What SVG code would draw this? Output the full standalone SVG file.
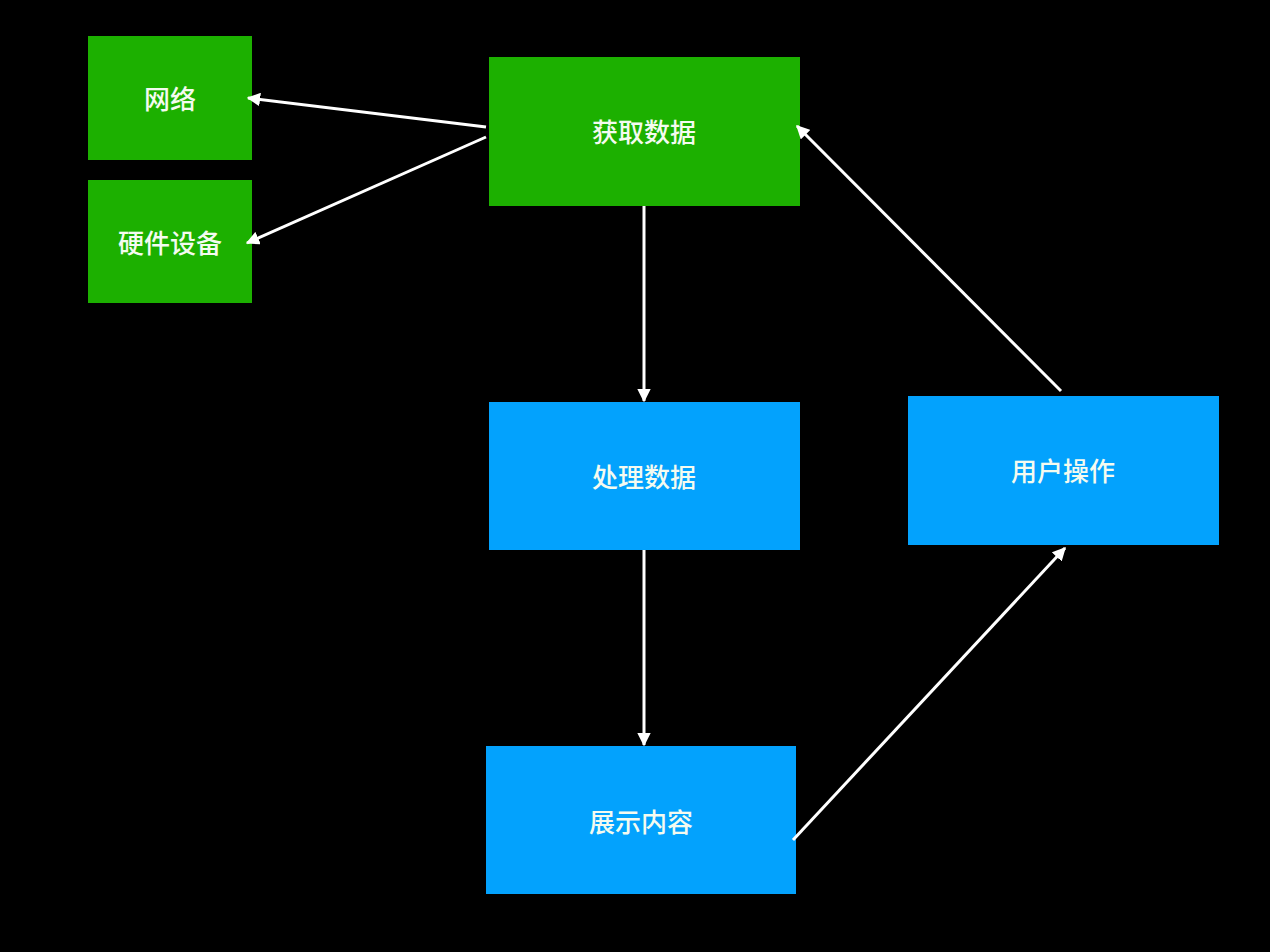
<svg xmlns="http://www.w3.org/2000/svg" width="1270" height="952" viewBox="0 0 1270 952">
<style>
.g{fill:#1cb000}
.b{fill:#03a2fd}
.t{fill:#f4fbf0;font-family:"Noto Sans CJK SC","Liberation Sans",sans-serif;font-size:26px;font-weight:500;text-anchor:middle;dominant-baseline:central}
.c{stroke:#ffffff;stroke-width:3;fill:none;marker-end:url(#ah)}
</style>
<defs>
<marker id="ah" viewBox="0 0 10 10" refX="9" refY="5" markerWidth="4.5" markerHeight="4.5" orient="auto" markerUnits="strokeWidth">
<path d="M0,0 L10,5 L0,10 z" fill="#ffffff"/>
</marker>
</defs>
<rect width="1270" height="952" fill="#000000"/>
<g id="node-wangluo"><rect class="g" x="88" y="36" width="164" height="124"/><text class="t" x="170" y="97">网络</text></g>
<g id="node-yingjian"><rect class="g" x="88" y="180" width="164" height="123"/><text class="t" x="170" y="241">硬件设备</text></g>
<g id="node-huoqu"><rect class="g" x="489" y="57" width="311" height="149"/><text class="t" x="644" y="130">获取数据</text></g>
<g id="node-chuli"><rect class="b" x="489" y="402" width="311" height="148"/><text class="t" x="644" y="475">处理数据</text></g>
<g id="node-yonghu"><rect class="b" x="908" y="396" width="311" height="149"/><text class="t" x="1063" y="469">用户操作</text></g>
<g id="node-zhanshi"><rect class="b" x="486" y="746" width="310" height="148"/><text class="t" x="641" y="820">展示内容</text></g>
<g id="connectors">
<line class="c" x1="486" y1="127" x2="248" y2="98"/>
<line class="c" x1="486" y1="137" x2="247" y2="243"/>
<line class="c" x1="644" y1="206" x2="644" y2="401"/>
<line class="c" x1="644" y1="550" x2="644" y2="745"/>
<line class="c" x1="793" y1="840" x2="1065" y2="548"/>
<line class="c" x1="1061" y1="391" x2="797" y2="126"/>
</g>
</svg>
